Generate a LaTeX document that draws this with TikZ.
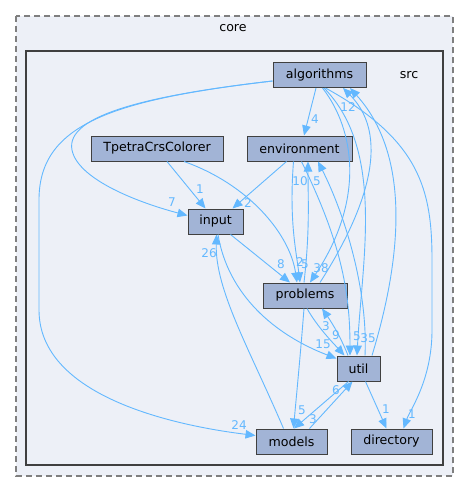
\documentclass[tikz,border=0pt]{standalone}
\usepackage{fontspec}
\setmainfont{DejaVu Sans}
\usetikzlibrary{arrows.meta}
\definecolor{edgec}{HTML}{63B8FF}
\definecolor{nodefill}{HTML}{A2B4D6}
\definecolor{nodeline}{HTML}{404040}
\definecolor{clfill}{HTML}{EDF0F7}
\definecolor{dashc}{HTML}{7F7F7F}
\begin{document}
\begin{tikzpicture}[x=1pt,y=-1pt,
  dirnode/.style={draw=nodeline, fill=nodefill, line width=1pt, inner sep=0pt, minimum height=25pt, font=\fontsize{12.6}{14}\selectfont},
  dep/.style={draw=edgec, line width=0.9pt, -{Triangle[length=10pt,width=8.5pt]}},
  lbl/.style={text=edgec, font=\fontsize{12}{14}\selectfont, inner sep=0pt},
  cllbl/.style={font=\fontsize{12.6}{14}\selectfont, inner sep=0pt}]
\useasboundingbox (0,0) rectangle (469,492);
\fill[white] (0,0) rectangle (469,492);
\draw[dashc, fill=clfill, dash pattern=on 6pt off 4pt, line width=1.2pt] (16,16) rectangle (453,476);
\node[cllbl] (corelbl) at (233,28) {core};
\draw[nodeline, fill=clfill, line width=2pt] (26,51) rectangle (443,465);
\node[cllbl] (srclbl) at (409,75) {src};

\node[dirnode, minimum width=93pt] (alg) at (319.5,75) {algorithms};
\node[dirnode, minimum width=132pt] (tp) at (157,148.5) {TpetraCrsColorer};
\node[dirnode, minimum width=105pt] (env) at (299.5,148.5) {environment};
\node[dirnode, minimum width=55pt] (input) at (215.5,221.5) {input};
\node[dirnode, minimum width=84pt] (problems) at (305,295.5) {problems};
\node[dirnode, minimum width=43pt] (util) at (358.5,368.5) {util};
\node[dirnode, minimum width=71pt] (models) at (291.5,441.5) {models};
\node[dirnode, minimum width=81pt] (directory) at (391.5,441.5) {directory};

\draw[dep] ([xshift=-3.5pt]alg.south) -- ([xshift=4.5pt]env.north);
\draw[dep] ([yshift=-6pt]alg.west) .. controls (150,95) and (65,115) .. (72,150) .. controls (78,180) and (140,203) .. ([yshift=6pt]input.west);
\draw[dep] ([yshift=-6pt]alg.west) .. controls (110,100) and (39,125) .. (39,200) -- (39,310) .. controls (39,395) and (170,425) .. ([yshift=6pt]models.west);
\draw[dep] ([xshift=3pt]alg.south) .. controls (355,130) and (365,200) .. ([xshift=5pt]problems.north);
\draw[dep] ([xshift=4.5pt]alg.south) .. controls (385,150) and (362,260) .. ([xshift=-1.5pt]util.north);
\draw[dep] ([xshift=13.5pt]util.north) .. controls (398,270) and (415,160) .. ([xshift=30.5pt]alg.south);
\draw[dep] ([xshift=15pt]problems.north) .. controls (360,220) and (395,140) .. ([xshift=23.5pt]alg.south);
\draw[dep] ([xshift=6pt]alg.south) .. controls (420,140) and (432,190) .. (432,260) -- (432,330) .. controls (432,380) and (410,410) .. ([xshift=12pt]directory.north);
\draw[dep] ([xshift=10pt]tp.south) -- ([xshift=-10pt]input.north);
\draw[dep] ([xshift=27pt]tp.south) .. controls (250,185) and (290,235) .. ([xshift=-8pt]problems.north);
\draw[dep] ([xshift=-13pt]env.south) -- ([xshift=17pt]input.north);
\draw[dep] ([xshift=-6pt]env.south) .. controls (289,220) and (296,250) .. ([xshift=-5pt]problems.north);
\draw[dep] ([xshift=2pt]env.south) .. controls (340,240) and (350,290) .. ([xshift=-8.5pt]util.north);
\draw[dep] ([xshift=15pt]input.south) -- ([xshift=-15pt]problems.north);
\draw[dep] ([xshift=2.5pt]input.south) .. controls (228,295) and (275,335) .. ([yshift=-3pt]util.north west);
\draw[dep] ([xshift=-8pt]models.north) .. controls (250,350) and (215,290) .. ([xshift=1pt]input.south);
\draw[dep] ([xshift=-1pt]problems.north) .. controls (310,230) and (308,200) .. ([xshift=8.5pt]env.south);
\draw[dep] ([xshift=6.5pt]util.north) .. controls (368,290) and (345,215) .. ([xshift=18.5pt]env.south);
\draw[dep] ([xshift=2pt]problems.south) .. controls (318,328) and (335,345) .. ([xshift=-14pt]util.north);
\draw[dep] ([xshift=-10.5pt]util.north) .. controls (340,335) and (330,320) .. ([xshift=17pt]problems.south);
\draw[dep] ([xshift=-1pt]problems.south) .. controls (300,360) and (296,400) .. ([xshift=2pt]models.north);
\draw[dep] ([xshift=-10pt]util.south) -- ([xshift=2.5pt]models.north);
\draw[dep] ([xshift=18pt]models.north) -- ([xshift=-6pt]util.south);
\draw[dep] ([xshift=7pt]util.south) -- ([xshift=-5pt]directory.north);

\node[lbl] (l4) at (315,119) {4};
\node[lbl] (l12) at (348,107) {12};
\node[lbl] (l7) at (172,202) {7};
\node[lbl] (l24) at (239,425) {24};
\node[lbl] (l1a) at (200,189) {1};
\node[lbl] (l2a) at (248,203) {2};
\node[lbl] (l26) at (209,253) {26};
\node[lbl] (l8) at (281,264) {8};
\node[lbl] (l2b) at (300,262) {2};
\node[lbl] (l5a) at (305,264) {5};
\node[lbl] (l38) at (321,268) {38};
\node[lbl] (l10) at (300,181) {10};
\node[lbl] (l5b) at (317,181) {5};
\node[lbl] (l3a) at (326,326) {3};
\node[lbl] (l9) at (336,335) {9};
\node[lbl] (l15) at (323,344) {15};
\node[lbl] (l5c) at (357,336) {5};
\node[lbl] (l35) at (368,338) {35};
\node[lbl] (l6) at (336,390) {6};
\node[lbl] (l5d) at (302,410) {5};
\node[lbl] (l3b) at (313,419) {3};
\node[lbl] (l1b) at (386,409) {1};
\node[lbl] (l1c) at (412,414) {1};
\end{tikzpicture}
\end{document}
